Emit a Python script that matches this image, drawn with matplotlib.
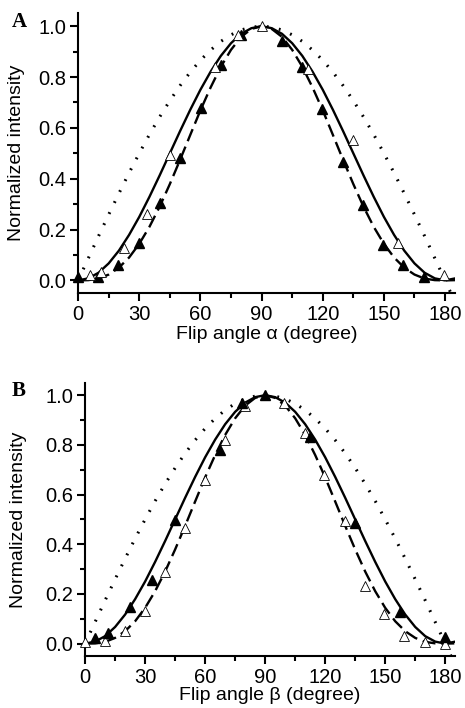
"""Normalized intensity vs flip angle, two stacked panels."""
import matplotlib
matplotlib.use('Agg')
import matplotlib.pyplot as plt
from matplotlib.ticker import MultipleLocator

plt.rcParams['font.family'] = ['Liberation Sans', 'DejaVu Sans']

# fitted curves (5 degree steps, 0..185)
curve_angle = [0, 5, 10, 15, 20, 25, 30, 35, 40, 45, 50, 55, 60, 65, 70, 75, 80, 85, 90,
               95, 100, 105, 110, 115, 120, 125, 130, 135, 140, 145, 150, 155, 160, 165,
               170, 175, 180, 185]
dotted_curve = [0.000, 0.087, 0.174, 0.259, 0.342, 0.423, 0.500, 0.574, 0.643, 0.707,
                0.766, 0.819, 0.866, 0.906, 0.940, 0.966, 0.985, 0.996, 1.000,
                0.996, 0.985, 0.966, 0.940, 0.906, 0.866, 0.819, 0.766, 0.707, 0.643,
                0.574, 0.500, 0.423, 0.342, 0.259, 0.174, 0.087, 0.000, -0.087]
solid_curve = [0.000, 0.008, 0.030, 0.067, 0.117, 0.179, 0.250, 0.329, 0.413, 0.500,
               0.587, 0.671, 0.750, 0.821, 0.883, 0.933, 0.970, 0.992, 1.000,
               0.992, 0.970, 0.933, 0.883, 0.821, 0.750, 0.671, 0.587, 0.500, 0.413,
               0.329, 0.250, 0.179, 0.117, 0.067, 0.030, 0.008, 0.000, 0.008]
dashed_curve = [0.000, 0.001, 0.007, 0.023, 0.050, 0.090, 0.144, 0.211, 0.290, 0.379,
                0.474, 0.572, 0.669, 0.759, 0.840, 0.907, 0.958, 0.989, 1.000,
                0.989, 0.958, 0.907, 0.840, 0.759, 0.669, 0.572, 0.474, 0.379, 0.290,
                0.211, 0.144, 0.090, 0.050, 0.023, 0.007, 0.001, 0.000, 0.001]

# panel A measurements
a_open_x = [5.6, 11.1, 22.7, 33.7, 45.2, 67.3, 78.4, 90, 112.9, 134.9, 156.9, 179.6]
a_open_y = [0.022, 0.033, 0.129, 0.26, 0.492, 0.84, 0.967, 1.0, 0.833, 0.551, 0.147, 0.022]
a_filled_x = [0, 9.7, 19.8, 30.1, 40.3, 50.1, 60.2, 70, 79.9, 99.8, 109.6, 119.4,
              129.7, 139.9, 149.7, 159.5, 169.7]
a_filled_y = [0.013, 0.013, 0.059, 0.146, 0.306, 0.482, 0.678, 0.846, 0.965, 0.94,
              0.84, 0.676, 0.466, 0.295, 0.138, 0.059, 0.013]

# panel B measurements
b_filled_x = [5, 11.2, 22.5, 33.3, 45, 67.5, 78.3, 90, 112.2, 134.7, 157.2, 179.7]
b_filled_y = [0.022, 0.043, 0.147, 0.257, 0.499, 0.781, 0.97, 1.0, 0.832, 0.487, 0.129, 0.025]
b_open_x = [0, 10, 20, 30, 40, 50, 60, 69.7, 79.7, 99.2, 110, 119.5, 130, 139.7,
            149.5, 159.5, 169.7, 180]
b_open_y = [0.005, 0.01, 0.05, 0.133, 0.288, 0.466, 0.66, 0.82, 0.957, 0.97, 0.848,
            0.68, 0.493, 0.231, 0.12, 0.03, 0.005, 0.0]


def style_axes(ax, letter, xlabel, letter_xy):
    ax.set_xlim(0, 185)
    ax.set_ylim(-0.05, 1.05)
    ax.spines['top'].set_visible(False)
    ax.spines['right'].set_visible(False)
    for s in ('left', 'bottom'):
        ax.spines[s].set_linewidth(1.5)
    ax.xaxis.set_major_locator(MultipleLocator(30))
    ax.xaxis.set_minor_locator(MultipleLocator(15))
    ax.yaxis.set_major_locator(MultipleLocator(0.2))
    ax.yaxis.set_minor_locator(MultipleLocator(0.1))
    ax.yaxis.set_major_formatter(plt.FuncFormatter(lambda v, p: f'{v:.1f}'))
    ax.tick_params(which='major', direction='out', length=6, width=1.5,
                   labelsize=14.5, pad=2.5)
    ax.tick_params(which='minor', direction='out', length=3.5, width=1.5)
    ax.set_xlabel(xlabel, fontsize=14)
    ax.set_ylabel('Normalized intensity', fontsize=14)
    ax.text(letter_xy[0], letter_xy[1], letter, transform=ax.figure.transFigure,
            fontsize=15, fontweight='bold', family='Liberation Serif',
            ha='left', va='center')


def draw_curves(ax):
    ax.plot(curve_angle, dotted_curve, color='black', lw=2.2,
            linestyle=(0, (0.6, 3.4)), zorder=2)
    ax.plot(curve_angle, solid_curve, color='black', lw=1.7, zorder=2)
    ax.plot(curve_angle, dashed_curve, color='black', lw=1.7,
            linestyle=(0, (5.5, 2.5)), zorder=2)


fig = plt.figure(figsize=(4.65, 7.08), dpi=100)

ax_a = fig.add_axes([0.168, 0.586, 0.811, 0.395])
draw_curves(ax_a)
ax_a.plot(a_filled_x, a_filled_y, '^', color='black', ms=7, zorder=3, clip_on=False)
ax_a.plot(a_open_x, a_open_y, '^', mfc='white', mec='black', mew=0.6, ms=7.5,
          zorder=4, clip_on=False)
style_axes(ax_a, 'A', 'Flip angle α (degree)', (0.026, 0.969))
ax_a.yaxis.set_label_coords(-0.14, 0.5)
ax_a.xaxis.set_label_coords(0.5, -0.118)

ax_b = fig.add_axes([0.183, 0.0734, 0.796, 0.386])
draw_curves(ax_b)
ax_b.plot(b_open_x, b_open_y, '^', mfc='white', mec='black', mew=0.6, ms=7.5,
          zorder=3, clip_on=False)
ax_b.plot(b_filled_x, b_filled_y, '^', color='black', ms=7, zorder=4, clip_on=False)
style_axes(ax_b, 'B', 'Flip angle β (degree)', (0.024, 0.448))
ax_b.yaxis.set_label_coords(-0.157, 0.5)
ax_b.xaxis.set_label_coords(0.5, -0.112)

fig.savefig('out.png', dpi=100)
plt.close(fig)
